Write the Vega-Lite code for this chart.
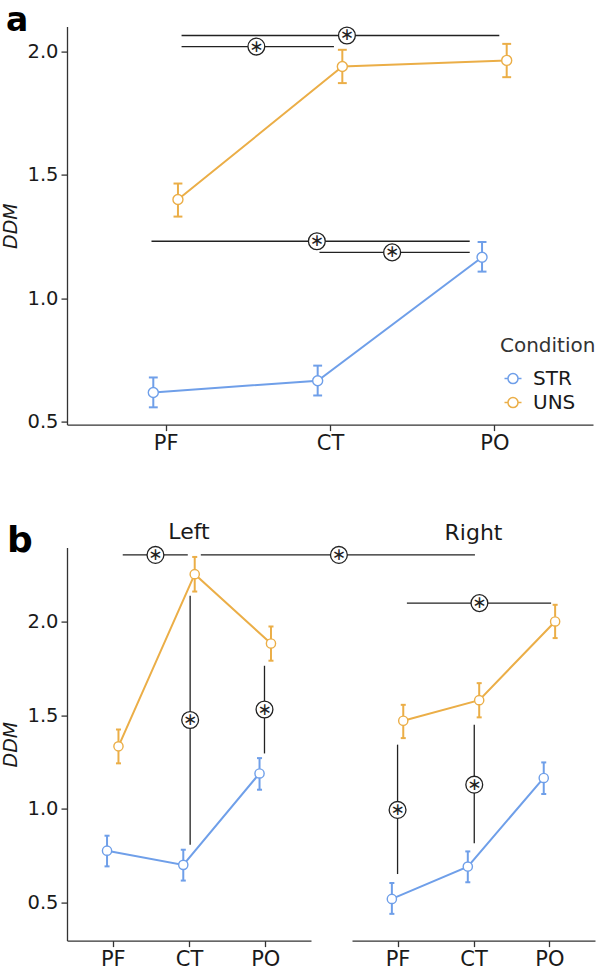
{
  "$schema": "https://vega.github.io/schema/vega-lite/v6.json",
  "background": "white",
  "padding": {"left": 1, "top": 4.6, "right": 0, "bottom": 0},
  "config": {
    "font": "DejaVu Sans",
    "view": {"stroke": null},
    "axis": {"grid": false, "domainColor": "#333333", "domainWidth": 1.3, "tickColor": "#333333", "tickWidth": 1.3, "tickSize": 6, "labelPadding": 3, "labelFontSize": 19.5, "labelColor": "#1a1a1a", "titleFontSize": 19, "titleFontStyle": "italic", "titleFontWeight": "normal", "titleColor": "#1a1a1a", "titlePadding": 6},
    "axisX": {"labelFontSize": 21, "labelPadding": 2},
    "title": {"font": "DejaVu Sans", "color": "#1a1a1a"}
  },
  "datasets": {
    "pts": [
      {"panel": "a", "cond": "STR", "phase": "PF", "i": 1, "ddm": 0.618, "lo": 0.558, "hi": 0.679},
      {"panel": "a", "cond": "STR", "phase": "CT", "i": 2, "ddm": 0.666, "lo": 0.606, "hi": 0.727},
      {"panel": "a", "cond": "STR", "phase": "PO", "i": 3, "ddm": 1.166, "lo": 1.108, "hi": 1.228},
      {"panel": "a", "cond": "UNS", "phase": "PF", "i": 1, "ddm": 1.400, "lo": 1.331, "hi": 1.465},
      {"panel": "a", "cond": "UNS", "phase": "CT", "i": 2, "ddm": 1.939, "lo": 1.872, "hi": 2.007},
      {"panel": "a", "cond": "UNS", "phase": "PO", "i": 3, "ddm": 1.964, "lo": 1.896, "hi": 2.031},
      {"panel": "Left", "cond": "STR", "phase": "PF", "i": 1, "ddm": 0.776, "lo": 0.692, "hi": 0.856},
      {"panel": "Left", "cond": "STR", "phase": "CT", "i": 2, "ddm": 0.700, "lo": 0.616, "hi": 0.781},
      {"panel": "Left", "cond": "STR", "phase": "PO", "i": 3, "ddm": 1.189, "lo": 1.102, "hi": 1.271},
      {"panel": "Left", "cond": "UNS", "phase": "PF", "i": 1, "ddm": 1.334, "lo": 1.243, "hi": 1.424},
      {"panel": "Left", "cond": "UNS", "phase": "CT", "i": 2, "ddm": 2.255, "lo": 2.162, "hi": 2.347},
      {"panel": "Left", "cond": "UNS", "phase": "PO", "i": 3, "ddm": 1.884, "lo": 1.792, "hi": 1.975},
      {"panel": "Right", "cond": "STR", "phase": "PF", "i": 1, "ddm": 0.518, "lo": 0.438, "hi": 0.603},
      {"panel": "Right", "cond": "STR", "phase": "CT", "i": 2, "ddm": 0.691, "lo": 0.607, "hi": 0.772},
      {"panel": "Right", "cond": "STR", "phase": "PO", "i": 3, "ddm": 1.165, "lo": 1.079, "hi": 1.248},
      {"panel": "Right", "cond": "UNS", "phase": "PF", "i": 1, "ddm": 1.471, "lo": 1.378, "hi": 1.556},
      {"panel": "Right", "cond": "UNS", "phase": "CT", "i": 2, "ddm": 1.581, "lo": 1.489, "hi": 1.672},
      {"panel": "Right", "cond": "UNS", "phase": "PO", "i": 3, "ddm": 2.002, "lo": 1.913, "hi": 2.091}
    ],
    "sig": [
      {"panel": "a", "x1": 1.097, "x2": 3.03, "y1": 2.065, "y2": 2.065, "sx": 2.103, "sy": 2.065},
      {"panel": "a", "x1": 1.097, "x2": 2.024, "y1": 2.020, "y2": 2.020, "sx": 1.552, "sy": 2.020},
      {"panel": "a", "x1": 0.914, "x2": 2.85, "y1": 1.231, "y2": 1.231, "sx": 1.92, "sy": 1.231},
      {"panel": "a", "x1": 1.936, "x2": 2.85, "y1": 1.186, "y2": 1.186, "sx": 2.378, "sy": 1.186},
      {"panel": "Left", "x1": 1.131, "x2": 1.984, "y1": 2.358, "y2": 2.358, "sx": 1.56, "sy": 2.358},
      {"panel": "Left", "x1": 2.155, "x2": 5.75, "y1": 2.358, "y2": 2.358, "sx": 3.966, "sy": 2.358},
      {"panel": "Left", "x1": 2.015, "x2": 2.015, "y1": 2.139, "y2": 0.807, "sx": 2.015, "sy": 1.475},
      {"panel": "Left", "x1": 2.99, "x2": 2.99, "y1": 1.765, "y2": 1.296, "sx": 2.99, "sy": 1.531},
      {"panel": "Right", "x1": 1.123, "x2": 3.022, "y1": 2.10, "y2": 2.10, "sx": 2.078, "sy": 2.10},
      {"panel": "Right", "x1": 1.0, "x2": 1.0, "y1": 1.343, "y2": 0.651, "sx": 1.0, "sy": 0.994},
      {"panel": "Right", "x1": 2.01, "x2": 2.01, "y1": 1.45, "y2": 0.815, "sx": 2.01, "sy": 1.129}
    ]
  },
  "resolve": {"scale": {"color": "independent"}, "legend": {"color": "independent"}},
  "spacing": 67,
  "vconcat": [
    {
      "title": {"text": "a", "anchor": "start", "frame": "bounds", "fontSize": 33, "fontWeight": "bold", "baseline": "alphabetic", "offset": -40, "dx": 4, "color": "#000000"},
      "width": 526,
      "height": 398,
      "layer": [
        {
          "data": {"name": "pts"},
          "transform": [
            {"filter": "datum.panel === 'a'"},
            {"calculate": "datum.i + (datum.cond === 'STR' ? -0.075 : 0.075)", "as": "xp"},
            {"calculate": "datum.xp - 0.027", "as": "c1"},
            {"calculate": "datum.xp + 0.027", "as": "c2"}
          ],
          "encoding": {
            "x": {"field": "xp", "type": "quantitative", "title": null, "scale": {"domain": [0.4, 3.6], "nice": false, "zero": false},
                  "axis": {"values": [1, 2, 3], "labelExpr": "datum.value === 1 ? 'PF' : datum.value === 2 ? 'CT' : 'PO'"}},
            "y": {"field": "ddm", "type": "quantitative", "title": "DDM", "scale": {"domain": [0.488, 2.101], "nice": false, "zero": false},
                  "axis": {"values": [0.5, 1, 1.5, 2], "format": ".1f"}},
            "color": {"field": "cond", "type": "nominal", "scale": {"domain": ["STR", "UNS"], "range": ["#6f9fe9", "#ebae47"]},
               "legend": {"title": "Condition", "orient": "none", "legendX": 433, "legendY": 309, "titleFontSize": 20, "titleFontWeight": "normal", "titleColor": "#333333", "titlePadding": 13, "labelFontSize": 20, "labelColor": "#1a1a1a", "labelOffset": 10, "rowPadding": 4, "symbolSize": 289, "symbolStrokeWidth": 1.5, "symbolFillColor": "white", "symbolOffset": 3,
                 "symbolType": "M-1,0L-0.59,0M0.59,0L1,0M0.59,0A0.59,0.59,0,1,1,-0.59,0A0.59,0.59,0,1,1,0.59,0",
                 "encode": {"symbols": {"update": {"shape": {"value": "M-1,0L-0.59,0M0.59,0L1,0M0.59,0A0.59,0.59,0,1,1,-0.59,0A0.59,0.59,0,1,1,0.59,0"}, "fill": {"value": "white"}, "strokeWidth": {"value": 1.5}, "size": {"value": 289}}}}}}
          },
          "layer": [
            {"mark": {"type": "line", "strokeWidth": 2}},
            {"mark": {"type": "rule", "strokeWidth": 2}, "encoding": {"y": {"field": "lo", "type": "quantitative", "title": "DDM"}, "y2": {"field": "hi"}}},
            {"mark": {"type": "rule", "strokeWidth": 2}, "encoding": {"x": {"field": "c1", "type": "quantitative", "title": null}, "x2": {"field": "c2"}, "y": {"field": "lo", "type": "quantitative", "title": "DDM"}}},
            {"mark": {"type": "rule", "strokeWidth": 2}, "encoding": {"x": {"field": "c1", "type": "quantitative", "title": null}, "x2": {"field": "c2"}, "y": {"field": "hi", "type": "quantitative", "title": "DDM"}}},
            {"mark": {"type": "point", "shape": "circle", "filled": false, "fill": "white", "size": 100, "strokeWidth": 1.4, "opacity": 1}}
          ]
        },
        {
          "data": {"name": "sig"},
          "transform": [{"filter": "datum.panel === 'a'"}],
          "layer": [
            {"mark": {"type": "rule", "color": "#222222", "strokeWidth": 1.3},
             "encoding": {"x": {"field": "x1", "type": "quantitative", "title": null}, "x2": {"field": "x2"}, "y": {"field": "y1", "type": "quantitative", "title": "DDM"}, "y2": {"field": "y2"}}},
            {"mark": {"type": "point", "shape": "circle", "filled": true, "fill": "white", "stroke": "#222222", "strokeWidth": 1.3, "size": 283, "opacity": 1},
             "encoding": {"x": {"field": "sx", "type": "quantitative", "title": null}, "y": {"field": "sy", "type": "quantitative", "title": "DDM"}}},
            {"mark": {"type": "text", "text": "∗", "fontSize": 17, "baseline": "middle", "align": "center", "color": "#222222"},
             "encoding": {"x": {"field": "sx", "type": "quantitative", "title": null}, "y": {"field": "sy", "type": "quantitative", "title": "DDM"}}}
          ]
        }
      ]
    },
    {
      "title": {"text": "b", "anchor": "start", "frame": "bounds", "fontSize": 36, "fontWeight": "bold", "baseline": "alphabetic", "offset": -67, "dx": 5, "color": "#000000"},
      "bounds": "flush",
      "spacing": 41,
      "resolve": {"scale": {"color": "independent"}, "legend": {"color": "independent"}},
      "hconcat": [
        {
          "title": {"text": "Left", "fontSize": 22, "fontWeight": "normal", "anchor": "middle", "frame": "group", "baseline": "alphabetic", "offset": -17},
          "width": 244,
          "height": 393,
          "layer": [
            {
              "data": {"name": "pts"},
              "transform": [
                {"filter": "datum.panel === 'Left'"},
                {"calculate": "datum.i + (datum.cond === 'STR' ? -0.075 : 0.075)", "as": "xp"},
                {"calculate": "datum.xp - 0.033", "as": "c1"},
                {"calculate": "datum.xp + 0.033", "as": "c2"}
              ],
              "encoding": {
                "x": {"field": "xp", "type": "quantitative", "title": null, "scale": {"domain": [0.4, 3.6], "nice": false, "zero": false},
                      "axis": {"values": [1, 2, 3], "labelExpr": "datum.value === 1 ? 'PF' : datum.value === 2 ? 'CT' : 'PO'"}},
                "y": {"field": "ddm", "type": "quantitative", "title": "DDM", "scale": {"domain": [0.295, 2.397], "nice": false, "zero": false},
                      "axis": {"values": [0.5, 1, 1.5, 2], "format": ".1f"}},
                "color": {"field": "cond", "type": "nominal", "scale": {"domain": ["STR", "UNS"], "range": ["#6f9fe9", "#ebae47"]}, "legend": null}
              },
              "layer": [
                {"mark": {"type": "line", "strokeWidth": 2}},
                {"mark": {"type": "rule", "strokeWidth": 2}, "encoding": {"y": {"field": "lo", "type": "quantitative", "title": "DDM"}, "y2": {"field": "hi"}}},
                {"mark": {"type": "rule", "strokeWidth": 2}, "encoding": {"x": {"field": "c1", "type": "quantitative", "title": null}, "x2": {"field": "c2"}, "y": {"field": "lo", "type": "quantitative", "title": "DDM"}}},
                {"mark": {"type": "rule", "strokeWidth": 2}, "encoding": {"x": {"field": "c1", "type": "quantitative", "title": null}, "x2": {"field": "c2"}, "y": {"field": "hi", "type": "quantitative", "title": "DDM"}}},
                {"mark": {"type": "point", "shape": "circle", "filled": false, "fill": "white", "size": 85, "strokeWidth": 1.4, "opacity": 1}}
              ]
            },
            {
              "data": {"name": "sig"},
              "transform": [{"filter": "datum.panel === 'Left'"}],
              "layer": [
                {"mark": {"type": "rule", "color": "#222222", "strokeWidth": 1.3},
                 "encoding": {"x": {"field": "x1", "type": "quantitative", "title": null}, "x2": {"field": "x2"}, "y": {"field": "y1", "type": "quantitative", "title": "DDM"}, "y2": {"field": "y2"}}},
                {"mark": {"type": "point", "shape": "circle", "filled": true, "fill": "white", "stroke": "#222222", "strokeWidth": 1.3, "size": 283, "opacity": 1},
                 "encoding": {"x": {"field": "sx", "type": "quantitative", "title": null}, "y": {"field": "sy", "type": "quantitative", "title": "DDM"}}},
                {"mark": {"type": "text", "text": "∗", "fontSize": 17, "baseline": "middle", "align": "center", "color": "#222222"},
                 "encoding": {"x": {"field": "sx", "type": "quantitative", "title": null}, "y": {"field": "sy", "type": "quantitative", "title": "DDM"}}}
              ]
            }
          ]
        },
        {
          "title": {"text": "Right", "fontSize": 22, "fontWeight": "normal", "anchor": "middle", "frame": "group", "baseline": "alphabetic", "offset": -14.5},
          "width": 243,
          "height": 393,
          "layer": [
            {
              "data": {"name": "pts"},
              "transform": [
                {"filter": "datum.panel === 'Right'"},
                {"calculate": "datum.i + (datum.cond === 'STR' ? -0.075 : 0.075)", "as": "xp"},
                {"calculate": "datum.xp - 0.033", "as": "c1"},
                {"calculate": "datum.xp + 0.033", "as": "c2"}
              ],
              "encoding": {
                "x": {"field": "xp", "type": "quantitative", "title": null, "scale": {"domain": [0.4, 3.6], "nice": false, "zero": false},
                      "axis": {"values": [1, 2, 3], "labelExpr": "datum.value === 1 ? 'PF' : datum.value === 2 ? 'CT' : 'PO'"}},
                "y": {"field": "ddm", "type": "quantitative", "scale": {"domain": [0.295, 2.397], "nice": false, "zero": false}, "axis": null},
                "color": {"field": "cond", "type": "nominal", "scale": {"domain": ["STR", "UNS"], "range": ["#6f9fe9", "#ebae47"]}, "legend": null}
              },
              "layer": [
                {"mark": {"type": "line", "strokeWidth": 2}},
                {"mark": {"type": "rule", "strokeWidth": 2}, "encoding": {"y": {"field": "lo", "type": "quantitative", "axis": null}, "y2": {"field": "hi"}}},
                {"mark": {"type": "rule", "strokeWidth": 2}, "encoding": {"x": {"field": "c1", "type": "quantitative", "title": null}, "x2": {"field": "c2"}, "y": {"field": "lo", "type": "quantitative", "axis": null}}},
                {"mark": {"type": "rule", "strokeWidth": 2}, "encoding": {"x": {"field": "c1", "type": "quantitative", "title": null}, "x2": {"field": "c2"}, "y": {"field": "hi", "type": "quantitative", "axis": null}}},
                {"mark": {"type": "point", "shape": "circle", "filled": false, "fill": "white", "size": 85, "strokeWidth": 1.4, "opacity": 1}}
              ]
            },
            {
              "data": {"name": "sig"},
              "transform": [{"filter": "datum.panel === 'Right'"}],
              "layer": [
                {"mark": {"type": "rule", "color": "#222222", "strokeWidth": 1.3},
                 "encoding": {"x": {"field": "x1", "type": "quantitative", "title": null}, "x2": {"field": "x2"}, "y": {"field": "y1", "type": "quantitative", "axis": null}, "y2": {"field": "y2"}}},
                {"mark": {"type": "point", "shape": "circle", "filled": true, "fill": "white", "stroke": "#222222", "strokeWidth": 1.3, "size": 283, "opacity": 1},
                 "encoding": {"x": {"field": "sx", "type": "quantitative", "title": null}, "y": {"field": "sy", "type": "quantitative", "axis": null}}},
                {"mark": {"type": "text", "text": "∗", "fontSize": 17, "baseline": "middle", "align": "center", "color": "#222222"},
                 "encoding": {"x": {"field": "sx", "type": "quantitative", "title": null}, "y": {"field": "sy", "type": "quantitative", "axis": null}}}
              ]
            }
          ]
        }
      ]
    }
  ]
}
